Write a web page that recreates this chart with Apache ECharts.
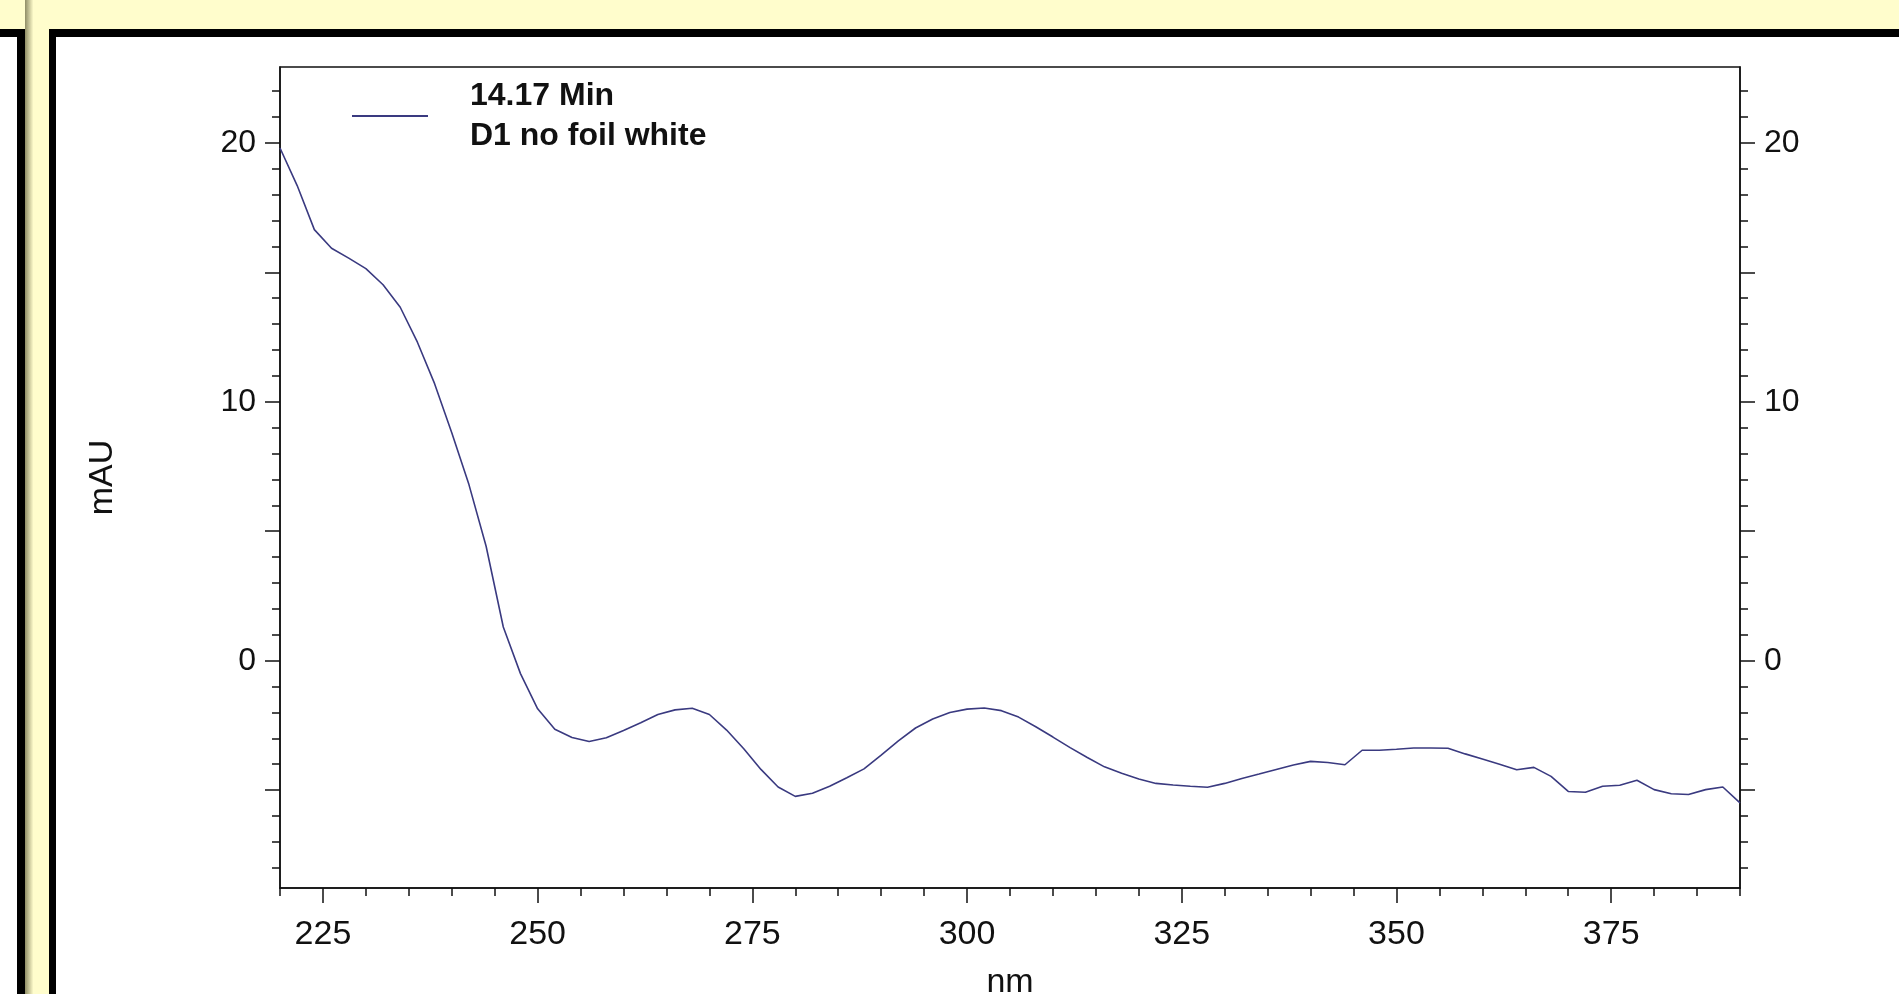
<!DOCTYPE html>
<html>
<head>
<meta charset="utf-8">
<script src="https://cdn.jsdelivr.net/npm/echarts@6/dist/echarts.min.js"></script>
<style>
html, body { margin: 0; padding: 0; background: #fff; }
#top { width: 1899px; height: 994px; }
</style>
</head>
<body>
<div id="top"></div>
<script>
// spectrum at 14.17 min, sample "D1 no foil white"
var wl = [220,222,224,226,228,230,232,234,236,238,240,242,244,246,248,250,252,254,256,258,
	260,262,264,266,268,270,272,274,276,278,280,282,284,286,288,290,292,294,296,298,
	300,302,304,306,308,310,312,314,316,318,320,322,324,326,328,330,332,334,336,338,
	340,342,344,346,348,350,352,354,356,358,360,362,364,366,368,370,372,374,376,378,
	380,382,384,386,388,390];
var mau = [19.8,18.35,16.65,15.93,15.55,15.14,14.52,13.65,12.3,10.7,8.8,6.8,4.42,1.3,-0.5,-1.86,-2.65,-2.97,-3.12,-2.98,
	-2.7,-2.4,-2.08,-1.9,-1.84,-2.08,-2.68,-3.4,-4.2,-4.88,-5.24,-5.12,-4.85,-4.52,-4.18,-3.65,-3.1,-2.6,-2.25,-2.0,
	-1.87,-1.83,-1.93,-2.18,-2.55,-2.95,-3.36,-3.74,-4.1,-4.35,-4.57,-4.74,-4.8,-4.85,-4.89,-4.74,-4.55,-4.38,-4.2,-4.03,
	-3.89,-3.93,-4.02,-3.46,-3.46,-3.42,-3.37,-3.37,-3.38,-3.6,-3.8,-4.0,-4.21,-4.12,-4.47,-5.05,-5.08,-4.85,-4.81,-4.62,
	-4.98,-5.14,-5.17,-4.98,-4.88,-5.49];
var seriesName = '14.17 Min\nD1 no foil white';

var xLabels = [225,250,275,300,325,350,375];
var xMinor = [220,230,235,240,245,255,260,265,270,280,285,290,295,305,310,315,320,330,335,340,345,355,360,365,370,380,385,390];
var yLabels = [0,10,20];
var yMajor = [-5,0,5,10,15,20];
var yMinor = [-8,-7,-6,-4,-3,-2,-1,1,2,3,4,6,7,8,9,11,12,13,14,16,17,18,19,21,22];

var fontName = '"Liberation Sans", Arial, sans-serif';
var ink = '#111111';
var lineColor = '#3a3a80';

var myChart = echarts.init(document.getElementById('top'));

function yAxisPart(pos, ticks, len, labels) {
	return {
		type: 'value',
		position: pos,
		min: -8.78,
		max: 22.93,
		axisLine: { show: !labels, onZero: false, lineStyle: { color: ink, width: 1.5 } },
		axisTick: { show: true, inside: false, length: len, customValues: ticks,
			lineStyle: { color: ink, width: 1.5 } },
		axisLabel: labels ? { show: true, customValues: labels, fontSize: 32, color: ink,
			fontFamily: fontName, margin: 24 } : { show: false },
		splitLine: { show: false }
	};
}

var leftMajor = yAxisPart('left', yMajor, 15, yLabels);
leftMajor.name = 'mAU';
leftMajor.nameLocation = 'middle';
leftMajor.nameGap = 160;
leftMajor.nameTextStyle = { fontSize: 34, color: ink, fontFamily: fontName };

var option = {
	backgroundColor: '#ffffff',
	animation: false,
	grid: {
		left: 280, top: 67, right: 159, bottom: 106,
		containLabel: false,
		outerBoundsMode: 'none',
		show: true, borderColor: ink, borderWidth: 1.5,
		backgroundColor: 'transparent'
	},
	legend: {
		data: [{ name: seriesName, icon: 'rect' }],
		left: 352,
		top: 76,
		padding: 0,
		itemWidth: 76,
		itemHeight: 2,
		textStyle: { fontSize: 32, fontWeight: 'bold', color: ink, fontFamily: fontName,
			lineHeight: 40, padding: [0, 0, 0, 37] }
	},
	xAxis: [{
		type: 'value',
		position: 'bottom',
		min: 220,
		max: 390,
		axisLine: { show: true, onZero: false, lineStyle: { color: ink, width: 1.5 } },
		axisTick: { show: true, length: 8, customValues: xMinor, lineStyle: { color: ink, width: 1.5 } },
		axisLabel: { show: false },
		splitLine: { show: false }
	}, {
		type: 'value',
		position: 'bottom',
		min: 220,
		max: 390,
		name: 'nm',
		nameLocation: 'middle',
		nameGap: 78,
		nameTextStyle: { fontSize: 34, color: ink, fontFamily: fontName },
		axisLine: { show: false, onZero: false },
		axisTick: { show: true, length: 15, customValues: xLabels, lineStyle: { color: ink, width: 1.5 } },
		axisLabel: { show: true, customValues: xLabels, fontSize: 34, color: ink,
			fontFamily: fontName, margin: 30 },
		splitLine: { show: false }
	}],
	yAxis: [
		yAxisPart('left', yMinor, 8, null),
		leftMajor,
		yAxisPart('right', yMinor, 8, null),
		yAxisPart('right', yMajor, 15, yLabels)
	],
	series: [{
		name: seriesName,
		type: 'line',
		xAxisIndex: 0,
		yAxisIndex: 0,
		symbol: 'none',
		smooth: false,
		lineStyle: { color: lineColor, width: 1.6 },
		itemStyle: { color: lineColor },
		data: wl.map(function (w, i) { return [w, mau[i]]; })
	}],
	// slide frame around the chart
	graphic: [
		{ type: 'rect', shape: { x: 0, y: 0, width: 1899, height: 29 }, style: { fill: '#fffdcc' }, silent: true },
		{ type: 'rect', shape: { x: 25, y: 0, width: 24, height: 994 },
			style: { fill: new echarts.graphic.LinearGradient(0, 0, 1, 0, [
				{ offset: 0, color: '#8f8d66' },
				{ offset: 0.35, color: '#fffdcc' },
				{ offset: 1, color: '#fffdcc' }
			]) }, silent: true },
		{ type: 'rect', shape: { x: 0, y: 29, width: 25, height: 8 }, style: { fill: '#000' }, silent: true },
		{ type: 'rect', shape: { x: 17, y: 29, width: 8, height: 965 }, style: { fill: '#000' }, silent: true },
		{ type: 'rect', shape: { x: 49, y: 29, width: 1850, height: 8 }, style: { fill: '#000' }, silent: true },
		{ type: 'rect', shape: { x: 49, y: 29, width: 7, height: 965 }, style: { fill: '#000' }, silent: true }
	]
};

myChart.setOption(option, true);
</script>
</body>
</html>
